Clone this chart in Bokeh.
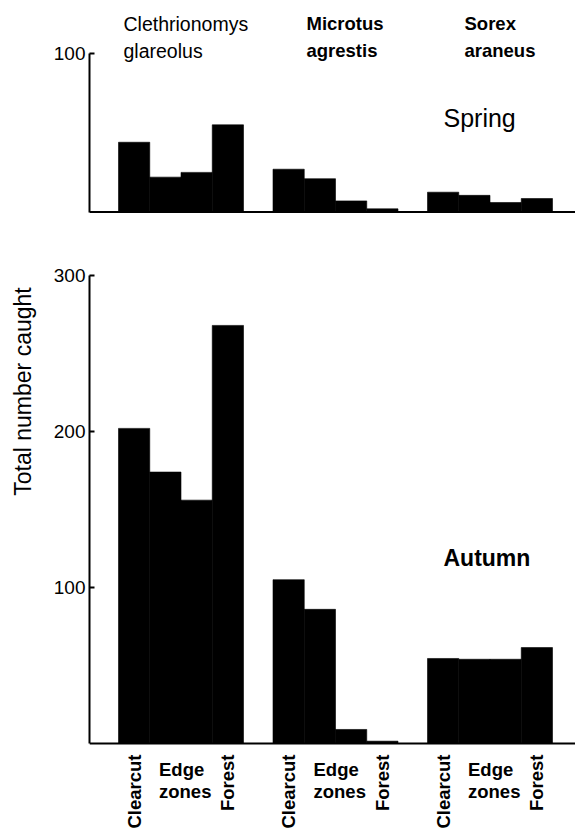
import math
from bokeh.plotting import figure
from bokeh.models import Range1d, FixedTicker, Span
from bokeh.layouts import column, row
from bokeh.embed import file_html
from bokeh.resources import INLINE
from bokeh.core.properties import value

# ---------------- data ----------------
species_line1 = ["Clethrionomys", "Microtus", "Sorex"]
species_line2 = ["glareolus", "agrestis", "araneus"]
bar_sites = ["Clearcut", "Edge zone (a)", "Edge zone (b)", "Forest"]
site_labels = ["Clearcut", "Edge", "zones", "Forest"]
season_labels = ["Spring", "Autumn"]

spring_clethrionomys = [44, 22, 25, 55]
spring_microtus = [27, 21, 7, 2]
spring_sorex = [12.5, 10.5, 6, 8.5]

autumn_clethrionomys = [202, 174, 156, 268]
autumn_microtus = [105, 86, 9, 1.5]
autumn_sorex = [54.5, 54, 54, 61.5]

spring_ticks = [100]
autumn_ticks = [100, 200, 300]
y_title = "Total number caught"

# ---------------- layout constants ----------------
FONT = "Liberation Sans"
W = 575
LEFT = 89          # frame left (px)
LABEL_W = 44       # width of the strip carrying the y title
BAR_PX = 31.25     # bar width (px)
FIRST_PX = 118     # left edge of first bar (px)
GROUP_PX = 154.5   # distance between groups (px)

H1 = 232
BASE1, PPU1 = 211.5, 1.585
H2 = 599
TOP2 = 232
BASE2, PPU2 = 743, 1.56


def xd(px):
    return (px - LEFT) / BAR_PX


def ys1(abs_y):
    return (BASE1 - abs_y) / PPU1


def ys2(abs_y):
    return (BASE2 - abs_y) / PPU2


def bar_x(g, k):
    return xd(FIRST_PX + g * GROUP_PX + k * BAR_PX) + 0.5


def style_axis(p, ticks, bounds):
    ax = p.yaxis[0]
    ax.ticker = FixedTicker(ticks=ticks)
    ax.bounds = bounds
    ax.minor_tick_line_color = None
    ax.major_tick_in = 5
    ax.major_tick_out = 0
    ax.major_label_standoff = 4
    ax.axis_line_width = 2
    ax.axis_line_color = "black"
    ax.major_tick_line_width = 2
    ax.major_tick_line_color = "black"
    ax.major_label_text_font = FONT
    ax.major_label_text_font_size = "19px"
    ax.major_label_text_color = "black"


def make_fig(w, h, y0, y1, border_left):
    p = figure(width=w, height=h,
               x_range=Range1d(0, xd(W)), y_range=Range1d(y0, y1),
               x_axis_location=None, y_axis_location="left",
               toolbar_location=None, output_backend="svg",
               min_border_left=border_left, min_border_right=0,
               min_border_top=0, min_border_bottom=0,
               outline_line_color=None,
               background_fill_color="white", border_fill_color="white")
    p.xgrid.visible = False
    p.ygrid.visible = False
    p.add_layout(Span(location=0, dimension="width",
                      line_color="black", line_width=2))
    return p


def draw_bars(p, groups):
    xs, tops = [], []
    for g, vals in enumerate(groups):
        for k, v in enumerate(vals):
            xs.append(bar_x(g, k))
            tops.append(v)
    p.vbar(x=xs, top=tops, bottom=0, width=1.0,
           fill_color="black", line_color="black", line_width=0.6)


# ---------------- spring panel ----------------
p1 = make_fig(W, H1, ys1(H1), ys1(0), LEFT)
style_axis(p1, spring_ticks, (0, 100))
draw_bars(p1, [spring_clethrionomys, spring_microtus, spring_sorex])

name_x = [123, 306, 464]
name_style = ["normal", "bold", "bold"]
name_size = ["19.5px", "18.5px", "18.5px"]
for i in range(3):
    for txt, yb in ((species_line1[i], 23), (species_line2[i], 50)):
        p1.text(x=[xd(name_x[i])], y=[ys1(yb)], text=[txt],
                text_font=value(FONT), text_font_size=name_size[i],
                text_font_style=name_style[i], text_color="black",
                text_align="left", text_baseline="alphabetic")

p1.text(x=[xd(443)], y=[ys1(117)], text=[season_labels[0]],
        text_font=value(FONT), text_font_size="25px",
        text_color="black", text_align="left", text_baseline="alphabetic")

# ---------------- autumn panel ----------------
y2_lo, y2_hi = ys2(TOP2 + H2), ys2(TOP2)
p2 = make_fig(W - LABEL_W, H2, y2_lo, y2_hi, LEFT - LABEL_W)
style_axis(p2, autumn_ticks, (0, 300))
draw_bars(p2, [autumn_clethrionomys, autumn_microtus, autumn_sorex])

p2.text(x=[xd(443)], y=[ys2(557)], text=[season_labels[1]],
        text_font=value(FONT), text_font_size="23px", text_font_style="bold",
        text_color="black", text_align="left", text_baseline="alphabetic")

# site labels under each group
rot_x, rot_t = [], []
edge_x = []
for g in range(3):
    rot_x += [bar_x(g, 0), bar_x(g, 3)]
    rot_t += [site_labels[0], site_labels[3]]
    edge_x.append(bar_x(g, 1) + 0.5 - 22 / BAR_PX)

p2.text(x=rot_x, y=[ys2(754)] * len(rot_x), text=rot_t, angle=math.pi / 2,
        text_font=value(FONT), text_font_size="18.5px", text_font_style="bold",
        text_color="black", text_align="right", text_baseline="middle")
p2.text(x=edge_x, y=[ys2(769)] * 3, text=[site_labels[1]] * 3,
        text_font=value(FONT), text_font_size="18.5px", text_font_style="bold",
        text_color="black", text_align="left", text_baseline="alphabetic")
p2.text(x=edge_x, y=[ys2(791)] * 3, text=[site_labels[2]] * 3,
        text_font=value(FONT), text_font_size="18.5px", text_font_style="bold",
        text_color="black", text_align="left", text_baseline="alphabetic")

# ---------------- strip with the y title ----------------
pt = figure(width=LABEL_W, height=H2,
            x_range=Range1d(0, LABEL_W), y_range=Range1d(y2_lo, y2_hi),
            x_axis_location=None, y_axis_location=None,
            toolbar_location=None, output_backend="svg",
            min_border_left=0, min_border_right=0,
            min_border_top=0, min_border_bottom=0,
            outline_line_color=None,
            background_fill_color="white", border_fill_color="white")
pt.xgrid.visible = False
pt.ygrid.visible = False
pt.text(x=[22], y=[ys2(391)], text=[y_title], angle=math.pi / 2,
        text_font=value(FONT), text_font_size="23px", text_color="black",
        text_align="center", text_baseline="middle")

layout = column(p1, row(pt, p2, spacing=0), spacing=0)
open("out.html", "w").write(file_html(layout, INLINE))
